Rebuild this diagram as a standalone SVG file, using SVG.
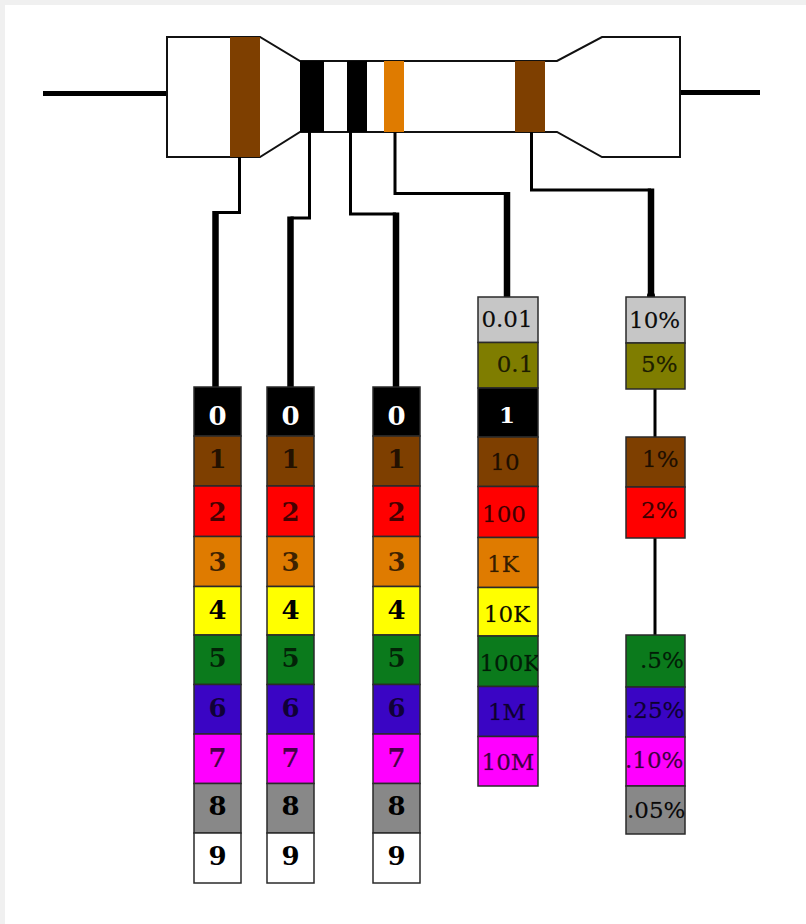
<svg xmlns="http://www.w3.org/2000/svg" width="806" height="924" viewBox="0 0 806 924">
  <defs>
    <style>
      .outline { fill: #fff; stroke: #111; stroke-width: 2; stroke-linejoin: miter; }
      .wire { stroke: #000; stroke-width: 5; fill: none; }
      .thin { stroke: #000; stroke-width: 3; fill: none; stroke-linejoin: miter; }
      .thick { stroke: #000; stroke-width: 6.5; fill: none; }
      .cell { stroke: #2a2a2a; stroke-width: 1.5; }
      .dig { font-family: "DejaVu Serif", "Liberation Serif", serif; font-weight: bold; font-size: 26px; text-anchor: middle; fill: #000; fill-opacity: 0.72; }
      .dig.w { fill: #fff; fill-opacity: 1; }
      .dig.k { fill-opacity: 1; }
      .val { font-family: "DejaVu Serif", "Liberation Serif", serif; font-size: 23px; fill: #000; fill-opacity: 0.75; stroke: #000; stroke-opacity: 0.35; stroke-width: 0.5; }
      .val.c { text-anchor: middle; }
      .val.w { fill: #fff; fill-opacity: 1; font-weight: bold; stroke: none; }
      .val.k { fill-opacity: 0.95; }
      .blk { fill: #000; } .brn { fill: #7e3f00; } .red { fill: #ff0000; } .org { fill: #df7b00; }
      .yel { fill: #ffff00; } .grn { fill: #0b7a1c; } .blu { fill: #3a05c4; } .mag { fill: #ff00ff; }
      .gry { fill: #888888; } .wht { fill: #ffffff; } .slv { fill: #c6c6c6; } .gld { fill: #7f7d00; }
    </style>
    <clipPath id="clipMult"><rect x="478" y="297" width="60" height="490"/></clipPath>
    <clipPath id="clipTol"><rect x="626" y="297" width="59" height="538"/></clipPath>
  </defs>

  <!-- page -->
  <rect x="0" y="0" width="806" height="924" fill="#f0f0f0"/>
  <rect x="5" y="5" width="801" height="919" fill="#ffffff"/>

  <!-- resistor -->
  <g id="resistor">
    <line class="wire" x1="43" y1="93.5" x2="168" y2="93.5"/>
    <line class="wire" x1="680" y1="92.5" x2="760" y2="92.5"/>
    <path class="outline" d="M167,37 H260 L300,61 H557 L602,37 H680 V157 H602 L557,132 H300 L260,157 H167 Z"/>
    <rect class="brn" x="230" y="37" width="30" height="120"/>
    <rect class="blk" x="300" y="61" width="24" height="71"/>
    <rect class="blk" x="347" y="61" width="20" height="71"/>
    <rect class="org" x="384" y="61" width="20" height="71"/>
    <rect class="brn" x="515" y="61" width="30" height="71"/>
  </g>

  <!-- connectors -->
  <g id="connectors">
    <polyline class="thin" points="239.5,157 239.5,212.5 215.5,212.5"/>
    <line class="thick" x1="215.5" y1="211" x2="215.5" y2="387"/>
    <polyline class="thin" points="309.5,132 309.5,218 290.5,218"/>
    <line class="thick" x1="290.5" y1="216.5" x2="290.5" y2="387"/>
    <polyline class="thin" points="350.5,132 350.5,214 396,214"/>
    <line class="thick" x1="396" y1="212.5" x2="396" y2="387"/>
    <polyline class="thin" points="395,132 395,193.5 507,193.5"/>
    <line class="thick" x1="507" y1="192" x2="507" y2="297"/>
    <polyline class="thin" points="531.5,132 531.5,190 651,190"/>
    <line class="thick" x1="651" y1="188.5" x2="651" y2="296"/>
    <circle cx="651" cy="296" r="4" fill="#000"/>
    <line class="thin" x1="655" y1="389" x2="655" y2="437"/>
    <line class="thin" x1="655" y1="538" x2="655" y2="635"/>
  </g>

  <!-- first digit -->
  <g id="digit1">
    <rect class="cell blk" x="194" y="387" width="47" height="49"/>
    <rect class="cell brn" x="194" y="436" width="47" height="50"/>
    <rect class="cell red" x="194" y="486" width="47" height="50.5"/>
    <rect class="cell org" x="194" y="536.5" width="47" height="50"/>
    <rect class="cell yel" x="194" y="586.5" width="47" height="48.5"/>
    <rect class="cell grn" x="194" y="635" width="47" height="49.5"/>
    <rect class="cell blu" x="194" y="684.5" width="47" height="49.5"/>
    <rect class="cell mag" x="194" y="734" width="47" height="49.5"/>
    <rect class="cell gry" x="194" y="783.5" width="47" height="49.5"/>
    <rect class="cell wht" x="194" y="833" width="47" height="50"/>
    <text class="dig w" x="217.5" y="425">0</text>
    <text class="dig" x="217.5" y="468">1</text>
    <text class="dig" x="217.5" y="521">2</text>
    <text class="dig" x="217.5" y="571">3</text>
    <text class="dig k" x="217.5" y="619">4</text>
    <text class="dig" x="217.5" y="667">5</text>
    <text class="dig" x="217.5" y="717">6</text>
    <text class="dig" x="217.5" y="767">7</text>
    <text class="dig k" x="217.5" y="815">8</text>
    <text class="dig k" x="217.5" y="865">9</text>
  </g>

  <!-- second digit -->
  <g id="digit2">
    <rect class="cell blk" x="267" y="387" width="47" height="49"/>
    <rect class="cell brn" x="267" y="436" width="47" height="50"/>
    <rect class="cell red" x="267" y="486" width="47" height="50.5"/>
    <rect class="cell org" x="267" y="536.5" width="47" height="50"/>
    <rect class="cell yel" x="267" y="586.5" width="47" height="48.5"/>
    <rect class="cell grn" x="267" y="635" width="47" height="49.5"/>
    <rect class="cell blu" x="267" y="684.5" width="47" height="49.5"/>
    <rect class="cell mag" x="267" y="734" width="47" height="49.5"/>
    <rect class="cell gry" x="267" y="783.5" width="47" height="49.5"/>
    <rect class="cell wht" x="267" y="833" width="47" height="50"/>
    <text class="dig w" x="290.5" y="425">0</text>
    <text class="dig" x="290.5" y="468">1</text>
    <text class="dig" x="290.5" y="521">2</text>
    <text class="dig" x="290.5" y="571">3</text>
    <text class="dig k" x="290.5" y="619">4</text>
    <text class="dig" x="290.5" y="667">5</text>
    <text class="dig" x="290.5" y="717">6</text>
    <text class="dig" x="290.5" y="767">7</text>
    <text class="dig k" x="290.5" y="815">8</text>
    <text class="dig k" x="290.5" y="865">9</text>
  </g>

  <!-- third digit -->
  <g id="digit3">
    <rect class="cell blk" x="373" y="387" width="47" height="49"/>
    <rect class="cell brn" x="373" y="436" width="47" height="50"/>
    <rect class="cell red" x="373" y="486" width="47" height="50.5"/>
    <rect class="cell org" x="373" y="536.5" width="47" height="50"/>
    <rect class="cell yel" x="373" y="586.5" width="47" height="48.5"/>
    <rect class="cell grn" x="373" y="635" width="47" height="49.5"/>
    <rect class="cell blu" x="373" y="684.5" width="47" height="49.5"/>
    <rect class="cell mag" x="373" y="734" width="47" height="49.5"/>
    <rect class="cell gry" x="373" y="783.5" width="47" height="49.5"/>
    <rect class="cell wht" x="373" y="833" width="47" height="50"/>
    <text class="dig w" x="396.5" y="425">0</text>
    <text class="dig" x="396.5" y="468">1</text>
    <text class="dig" x="396.5" y="521">2</text>
    <text class="dig" x="396.5" y="571">3</text>
    <text class="dig k" x="396.5" y="619">4</text>
    <text class="dig" x="396.5" y="667">5</text>
    <text class="dig" x="396.5" y="717">6</text>
    <text class="dig" x="396.5" y="767">7</text>
    <text class="dig k" x="396.5" y="815">8</text>
    <text class="dig k" x="396.5" y="865">9</text>
  </g>

  <!-- multiplier -->
  <g id="multiplier">
    <rect class="cell slv" x="478" y="297" width="60" height="45.5"/>
    <rect class="cell gld" x="478" y="342.5" width="60" height="45.5"/>
    <rect class="cell blk" x="478" y="388" width="60" height="49"/>
    <rect class="cell brn" x="478" y="437" width="60" height="49.5"/>
    <rect class="cell red" x="478" y="486.5" width="60" height="51"/>
    <rect class="cell org" x="478" y="537.5" width="60" height="50"/>
    <rect class="cell yel" x="478" y="587.5" width="60" height="48.5"/>
    <rect class="cell grn" x="478" y="636" width="60" height="50.5"/>
    <rect class="cell blu" x="478" y="686.5" width="60" height="50"/>
    <rect class="cell mag" x="478" y="736.5" width="60" height="49.5"/>
    <g clip-path="url(#clipMult)">
      <text class="val c k" x="507" y="327">0.01</text>
      <text class="val c" x="515" y="372">0.1</text>
      <text class="val c w" x="507" y="423">1</text>
      <text class="val c" x="505" y="470">10</text>
      <text class="val c" x="504" y="522">100</text>
      <text class="val c" x="503" y="572">1K</text>
      <text class="val c k" x="507" y="622">10K</text>
      <text class="val c" x="510" y="671">100K</text>
      <text class="val c" x="507" y="720">1M</text>
      <text class="val c" x="508" y="770">10M</text>
    </g>
  </g>

  <!-- tolerance -->
  <g id="tolerance">
    <rect class="cell slv" x="626" y="297" width="59" height="46"/>
    <rect class="cell gld" x="626" y="343" width="59" height="46"/>
    <rect class="cell brn" x="626" y="437" width="59" height="50"/>
    <rect class="cell red" x="626" y="487" width="59" height="51"/>
    <rect class="cell grn" x="626" y="635" width="59" height="52"/>
    <rect class="cell blu" x="626" y="687" width="59" height="50"/>
    <rect class="cell mag" x="626" y="737" width="59" height="49"/>
    <rect class="cell gry" x="626" y="786" width="59" height="48"/>
    <g clip-path="url(#clipTol)">
      <text class="val k" x="629" y="328">10%</text>
      <text class="val" x="641" y="372">5%</text>
      <text class="val" x="642" y="467">1%</text>
      <text class="val" x="641" y="518">2%</text>
      <text class="val" x="640" y="668">.5%</text>
      <text class="val" x="626" y="718">.25%</text>
      <text class="val" x="625" y="768">.10%</text>
      <text class="val k" x="627" y="818">.05%</text>
    </g>
  </g>
</svg>
